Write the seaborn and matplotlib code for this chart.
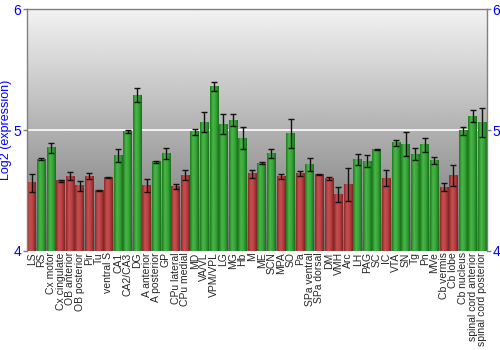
import matplotlib
matplotlib.use("Agg")
import matplotlib.pyplot as plt
import numpy as np
import pandas as pd
import seaborn as sns
from matplotlib.colors import LinearSegmentedColormap

regions = ["LS", "RS", "Cx motor", "Cx cingulate", "OB anterior", "OB posterior", "Pir", "Tu",
           "ventral S", "CA1", "CA2/CA3", "DG", "A anterior", "A posterior", "GP", "CPu lateral",
           "CPu medial", "MD", "VA/VL", "VPM/VPL", "LG", "MG", "Hb", "M", "ME", "SCN", "MPA", "SO",
           "Pa", "SPa ventral", "SPa dorsal", "DM", "VMH", "Arc", "LH", "PAG", "SC", "IC", "VTA",
           "SN", "Tg", "Pn", "MVe", "Cb vermis", "Cb lobe", "Cb nucleus", "spinal cord anterior",
           "spinal cord posterior"]
expression = [4.564, 4.757, 4.854, 4.580, 4.619, 4.539, 4.619, 4.497,
              4.610, 4.793, 4.989, 5.290, 4.544, 4.738, 4.807, 4.530,
              4.627, 4.986, 5.066, 5.362, 5.050, 5.083, 4.934, 4.640, 4.724, 4.807, 4.619, 4.972,
              4.638, 4.718, 4.630, 4.597, 4.467, 4.550, 4.757, 4.743, 4.840, 4.602, 4.895,
              4.884, 4.801, 4.878, 4.751, 4.528, 4.624, 4.994, 5.116,
              5.066]
error = [0.076, 0.008, 0.040, 0.008, 0.030, 0.040, 0.025, 0.004,
         0.004, 0.054, 0.010, 0.055, 0.054, 0.008, 0.047, 0.020,
         0.043, 0.025, 0.080, 0.036, 0.080, 0.047, 0.087, 0.033, 0.008, 0.037, 0.020, 0.117,
         0.022, 0.054, 0.005, 0.014, 0.064, 0.134, 0.044, 0.050, 0.003, 0.069, 0.025,
         0.100, 0.047, 0.058, 0.028, 0.030, 0.083, 0.033, 0.052,
         0.120]
group = ["r", "g", "g", "r", "r", "r", "r", "r",
         "r", "g", "g", "g", "r", "g", "g", "r",
         "r", "g", "g", "g", "g", "g", "g", "r", "g", "g", "r", "g",
         "r", "g", "r", "r", "r", "r", "g", "g", "g", "r", "g",
         "g", "g", "g", "g", "r", "r", "g", "g",
         "g"]


def main():
    sns.set_style("white")
    plt.rcParams['font.family'] = ['Liberation Sans', 'DejaVu Sans']

    df = pd.DataFrame({"region": regions, "value": expression, "group": group})
    palette = {"r": "#b83a3a", "g": "#36a336"}

    fig = plt.figure(figsize=(5, 3.5), dpi=100)
    ax = fig.add_axes([0.054, 0.283, 0.92, 0.691])

    sns.barplot(data=df, x="region", y="value", hue="group", palette=palette,
                dodge=False, legend=False, errorbar=None, width=0.9, ax=ax, zorder=2)

    ymin, ymax = 4, 6
    n = len(regions)

    # background gradient
    bg = np.linspace(0.44, 0.95, 256).reshape(-1, 1)
    ax.imshow(bg, extent=[0, 1, 0, 1], transform=ax.transAxes, cmap="gray",
              vmin=0, vmax=1, aspect="auto", origin="lower", zorder=0)
    ax.axhline(5, color="white", lw=1.2, zorder=1)

    # cylinder shading on bars
    cmaps = {
        "r": LinearSegmentedColormap.from_list("r", ["#8a2a2a", "#c85050", "#b84040", "#7a2424"]),
        "g": LinearSegmentedColormap.from_list("g", ["#1f7a1f", "#48b848", "#36a336", "#1c6e1c"]),
    }
    shade = np.linspace(0, 1, 64).reshape(1, -1)
    for patch in list(ax.patches):
        w = patch.get_width()
        h = patch.get_height()
        if np.isnan(h) or h == 0:
            continue
        x0 = patch.get_x()
        idx = int(round(x0 + w / 2))
        patch.set_visible(False)
        ax.imshow(shade, extent=[x0, x0 + w, ymin, h], cmap=cmaps[group[idx]], aspect="auto",
                  origin="lower", zorder=2)

    ax.errorbar(np.arange(n), expression, yerr=error, fmt="none",
                ecolor="#111111", elinewidth=1, capsize=2, capthick=1, zorder=3)

    ax.set_xlim(-0.5, n - 0.5)
    ax.set_ylim(ymin, ymax)
    ax.set_yticks([4, 5, 6])
    ax.set_xlabel("")
    ax.set_ylabel("Log2 (expression)", color="blue", fontsize=9, labelpad=1)
    ax.tick_params(axis="y", colors="#808080", labelcolor="blue", labelsize=10,
                   length=3, width=1, direction="out", left=True, right=True,
                   labelleft=True, labelright=True, pad=1)
    ax.tick_params(axis="x", length=0, labelsize=7.5, pad=1)
    plt.setp(ax.get_xticklabels(), rotation=90)
    for side in ["left", "right", "top"]:
        ax.spines[side].set_color("#808080")
        ax.spines[side].set_linewidth(1)
    ax.spines["bottom"].set_visible(False)

    fig.savefig("out.png", dpi=100)


if __name__ == "__main__":
    main()
